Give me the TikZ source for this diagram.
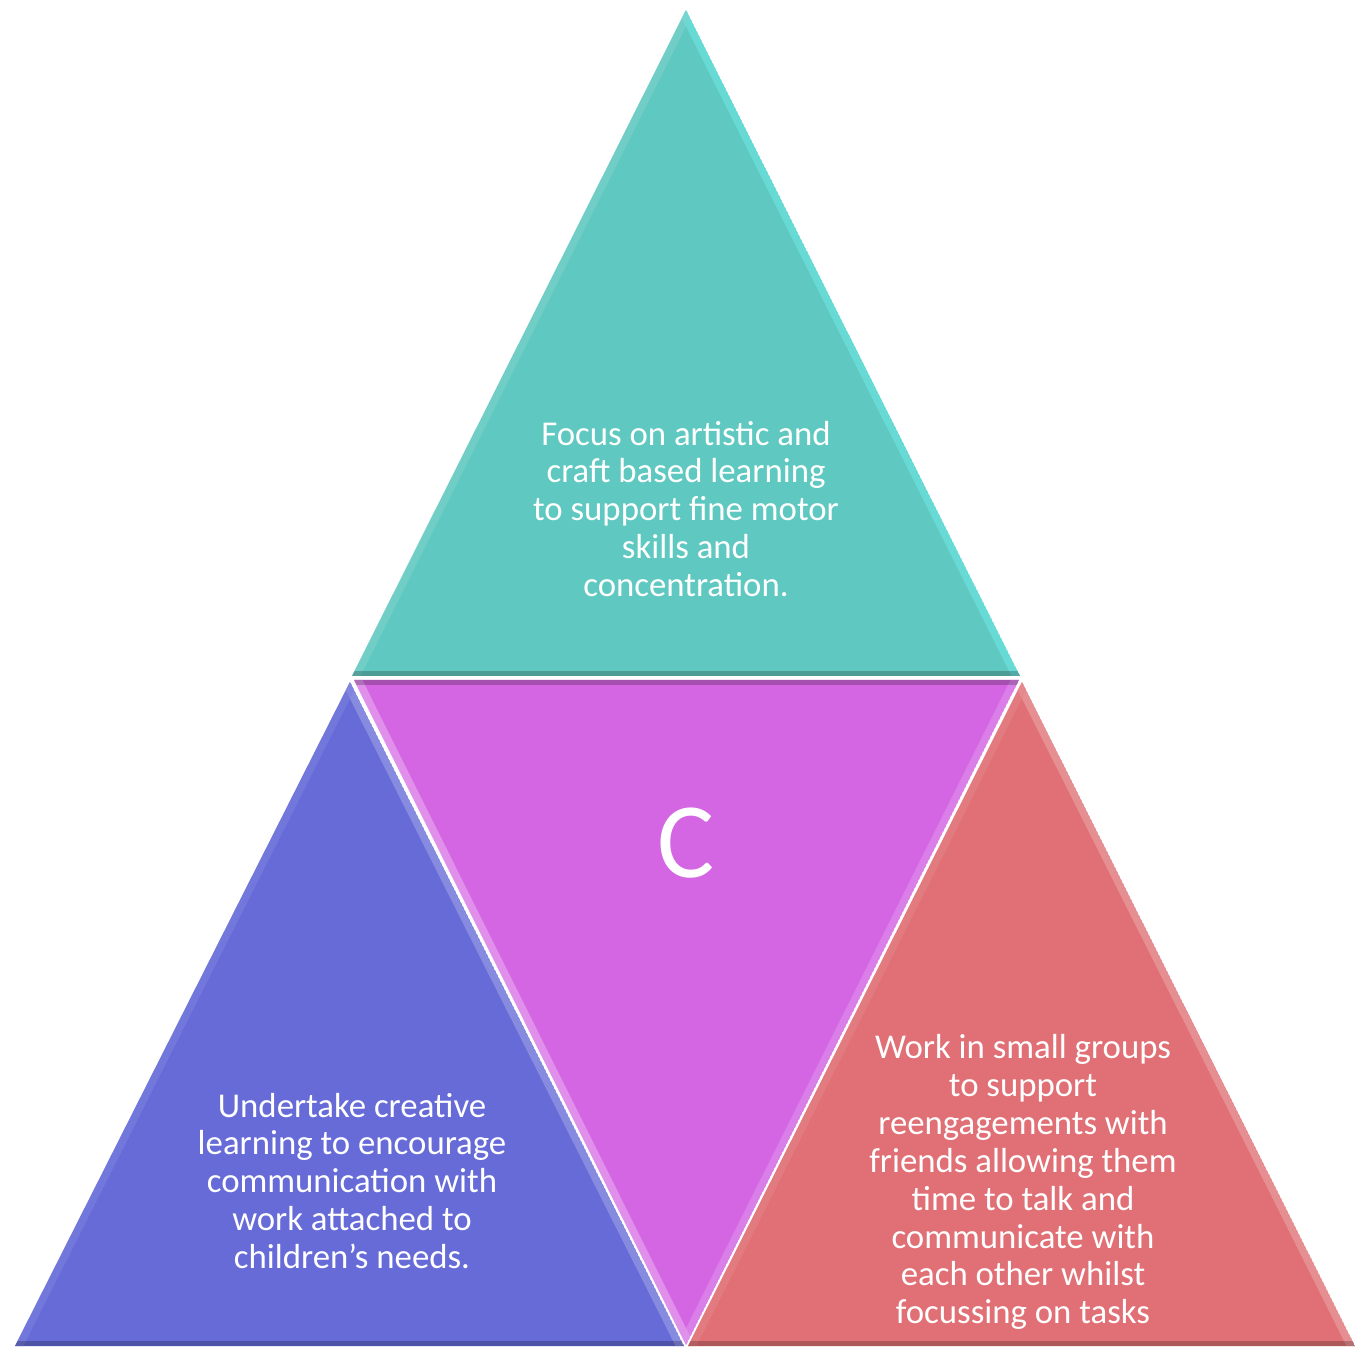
\documentclass[tikz,border=0pt]{standalone}
\usepackage{fontspec}
\setmainfont{Carlito}
\usepackage{tikz}
\usetikzlibrary{calc}

\definecolor{tealtri}{HTML}{5FC8C0}
\definecolor{magtri}{HTML}{D466E4}
\definecolor{bluetri}{HTML}{666BD8}
\definecolor{redtri}{HTML}{E07075}

\tikzset{
  label text/.style={text=white, align=center, font=\fontsize{19.8}{21.6}\selectfont},
  big letter/.style={text=white, font=\fontsize{61}{61}\selectfont},
  glow/.style={line width=0.3cm, line join=miter, opacity=0.55},
  shade/.style={line width=0.2cm, opacity=0.22, black}
}

\begin{document}
\begin{tikzpicture}[scale=1.0]
\useasboundingbox (0,0) rectangle (27.1,26.92);
% corners of the four triangles
\coordinate (t1) at (13.72,26.72);
\coordinate (t2) at (7.04,13.40);
\coordinate (t3) at (20.40,13.40);
\coordinate (m1) at (7.08,13.32);
\coordinate (m2) at (20.38,13.32);
\coordinate (m3) at (13.72,0.02);
\coordinate (l1) at (7.00,13.28);
\coordinate (l2) at (0.30,0);
\coordinate (l3) at (13.68,0);
\coordinate (r1) at (20.44,13.28);
\coordinate (r2) at (13.76,0);
\coordinate (r3) at (27.10,0);
% top
\begin{scope}
\clip (t1)--(t2)--(t3)--cycle;
\fill[tealtri] (t1)--(t2)--(t3)--cycle;
\draw[glow, tealtri!55!cyan!70!white] (t1)--(t3);
\draw[glow, tealtri!80!white] (t1)--(t2);
\draw[shade] (t2)--(t3);
\end{scope}
% middle
\begin{scope}
\clip (m1)--(m2)--(m3)--cycle;
\fill[magtri] (m1)--(m2)--(m3)--cycle;
\draw[glow, magtri!50!white] (m1)--(m3);
\draw[glow, magtri!70!white] (m2)--(m3);
\draw[shade] (m1)--(m2);
\end{scope}
% left
\begin{scope}
\clip (l1)--(l2)--(l3)--cycle;
\fill[bluetri] (l1)--(l2)--(l3)--cycle;
\draw[glow, bluetri!60!white] (l1)--(l3);
\draw[glow, bluetri!85!white] (l1)--(l2);
\draw[shade] (l2)--(l3);
\end{scope}
% right
\begin{scope}
\clip (r1)--(r2)--(r3)--cycle;
\fill[redtri] (r1)--(r2)--(r3)--cycle;
\draw[glow, redtri!60!white] (r1)--(r3);
\draw[glow, redtri!85!white] (r1)--(r2);
\draw[shade] (r2)--(r3);
\end{scope}
% texts
\node[label text] (topText) at (13.72,16.74)
  {Focus on artistic and\\craft based learning\\to support fine motor\\skills and\\concentration.};
\node[big letter] (centreC) at (13.72,10.06) {C};
\node[label text] (leftText) at (7.04,3.30)
  {Undertake creative\\learning to encourage\\communication with\\work attached to\\children’s needs.};
\node[label text] (rightText) at (20.46,3.28)
  {Work in small groups\\to support\\reengagements with\\friends allowing them\\time to talk and\\communicate with\\each other whilst\\focussing on tasks};
\end{tikzpicture}
\end{document}
